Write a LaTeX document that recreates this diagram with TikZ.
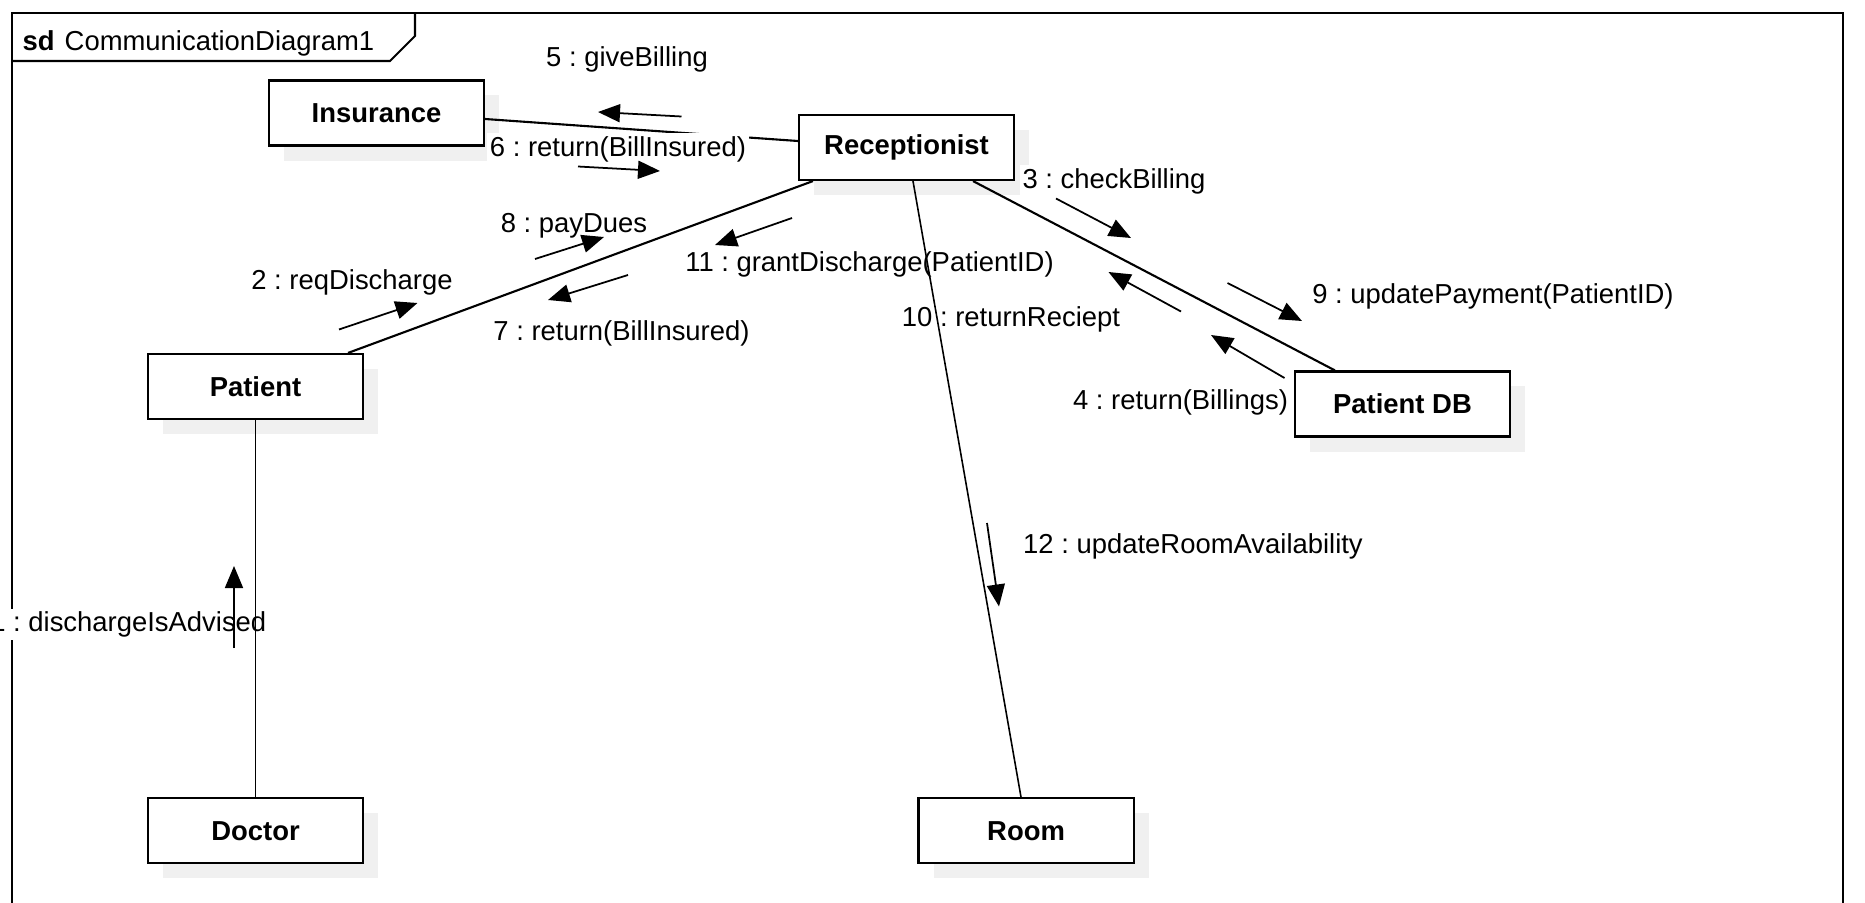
\documentclass[tikz,border=0pt]{standalone}
\usepackage{fontspec}
\setmainfont{Liberation Sans}
\usetikzlibrary{positioning}
\usetikzlibrary{arrows.meta}
\usetikzlibrary{shadows}

\definecolor{shadowgray}{RGB}{240,240,240}
\newcommand{\msgfont}{\fontsize{7.8}{9}\selectfont}
\frenchspacing

\tikzset{
	obj/.style = {draw, fill=white, line width=0.6pt, minimum width=2.15cm, minimum height=0.65cm,
		font=\msgfont\bfseries,
		general shadow={fill=shadowgray, shadow xshift=0.15cm, shadow yshift=-0.15cm}},
	lnk/.style = {line width=0.6pt},
	thinlnk/.style = {line width=0.45pt},
	msg/.style = {line width=0.5pt, -{Triangle[length=0.22cm, width=0.18cm]}},
	lbl/.style = {fill=white, inner sep=0.03cm, font=\msgfont},
}

\begin{document}
\begin{tikzpicture}[x=0.01cm, y=-0.01cm]
		\useasboundingbox (0,0) rectangle (1865,903);
		
		% frame
		\draw[line width=0.6pt] (12,960) -- (12,13) -- (1843,13) -- (1843,960);
		\draw[line width=0.6pt] (12,61) -- (390,61) -- (415,36) -- (415,13);
		\node[anchor=west, inner sep=0, font=\msgfont] (title) at (22,43) {\textbf{sd}\hspace{0.1cm}CommunicationDiagram1};
		
		% objects
		\node[obj] (insurance) at (376.5,113) {Insurance};
		\node[obj] (recep) at (906.5,147.5) {Receptionist};
		\node[obj] (patient) at (255.5,386.5) {Patient};
		\node[obj] (patientdb) at (1402.5,404) {Patient DB};
		\node[obj, below = 3.77cm of patient] (doctor) {Doctor};
		\node[obj, right = 5.53cm of doctor] (room) {Room};
		
		\draw[lnk] ([yshift=-0.06cm]insurance.east) -- ([yshift=0.065cm]recep.west);
		
		% messages
		\node[lbl] (lbl1) at (270,624.5) [anchor=east] {1 : dischargeIsAdvised};
		\node[lbl] (lbl2) at (352,282) {2 : reqDischarge};
		\node[lbl] (lbl3) at (1114,181) {3 : checkBilling};
		\node[lbl] (lbl4) at (1180.5,402) {4 : return(Billings)};
		\node[lbl] (lbl5) at (627,59) {5 : giveBilling};
		\node[lbl] (lbl6) at (618,149) {6 : return(BillInsured)};
		\node[lbl] (lbl7) at (621.5,333) {7 : return(BillInsured)};
		\node[lbl] (lbl8) at (574,226) {8 : payDues};
		\node[lbl] (lbl9) at (1493,296) {9 : updatePayment(PatientID)};
		\node[lbl] (lbl10) at (1011,319) {10 : returnReciept};
		\node[lbl] (lbl11) at (869.5,264) {11 : grantDischarge(PatientID)};
		\node[lbl] (lbl12) at (1193,546) {12 : updateRoomAvailability};
		
		% links
		\draw[lnk] ([xshift=0.925cm]patient.north) -- ([xshift=-0.935cm]recep.south);
		\draw[lnk] ([xshift=0.665cm]recep.south) -- ([xshift=-0.675cm]patientdb.north);
		\draw[thinlnk] ([xshift=0.065cm]recep.south) -- ([xshift=-0.05cm]room.north);
		\draw[thinlnk] (patient) -- (doctor);
		
		\coordinate (m1s) at (234,648);    \coordinate (m1e) at (234,566);
		\coordinate (m2s) at (339,329.5);  \coordinate (m2e) at (417.5,303);
		\coordinate (m3s) at (1056,198.5); \coordinate (m3e) at (1131,238);
		\coordinate (m4s) at (1284.5,378); \coordinate (m4e) at (1211,335);
		\coordinate (m5s) at (681.5,116.5); \coordinate (m5e) at (598,112);
		\coordinate (m6s) at (578,166.5);  \coordinate (m6e) at (660,171);
		\coordinate (m7s) at (628,275);    \coordinate (m7e) at (548,300);
		\coordinate (m8s) at (535,259);    \coordinate (m8e) at (604,237);
		\coordinate (m9s) at (1227.5,283); \coordinate (m9e) at (1302,321);
		\coordinate (m10s) at (1181,311.5); \coordinate (m10e) at (1108.5,272);
		\coordinate (m11s) at (792,218);   \coordinate (m11e) at (715,245);
		\coordinate (m12s) at (987,523);   \coordinate (m12e) at (999,606.5);
		
		\foreach \m in {1,...,12}
			\draw[msg] (m\m s) -- (m\m e);
	\end{tikzpicture}
\end{document}
